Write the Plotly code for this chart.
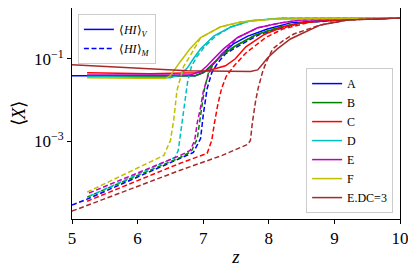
import plotly.graph_objects as go

# ---------------- data ----------------
names = ["A", "B", "C", "D", "E", "F", "E.DC=3"]
colors = ["#0000ff", "#008000", "#ff0000", "#00bfbf", "#bf00bf", "#bfbf00", "#a52a2a"]

# volume-weighted <HI>_V (solid)
zA_v = [5.0, 6.0, 6.88, 7.03, 7.16, 7.29, 7.46, 7.68, 7.98, 8.33, 8.94, 10.0]
xA_v = [0.0389, 0.0385, 0.0389, 0.0490, 0.0759, 0.132, 0.229, 0.355, 0.525, 0.741, 0.871, 0.977]
zB_v = [5.23, 6.88, 7.0, 7.11, 7.26, 7.49, 7.80, 8.18, 8.49, 8.94, 10.0]
xB_v = [0.0372, 0.0389, 0.0457, 0.0676, 0.112, 0.204, 0.380, 0.589, 0.741, 0.871, 0.977]
zC_v = [5.23, 6.19, 6.88, 7.11, 7.34, 7.49, 7.65, 7.92, 8.18, 8.49, 8.94, 10.0]
xC_v = [0.0457, 0.0437, 0.0457, 0.0537, 0.0676, 0.100, 0.195, 0.380, 0.562, 0.741, 0.871, 0.977]
zD_v = [5.23, 6.50, 6.65, 6.76, 6.85, 6.96, 7.16, 7.42, 7.72, 8.18, 10.0]
xD_v = [0.0372, 0.0347, 0.0407, 0.0603, 0.100, 0.174, 0.355, 0.589, 0.832, 0.955, 0.977]
zE_v = [5.23, 6.80, 6.96, 7.06, 7.16, 7.31, 7.52, 7.83, 8.18, 8.49, 10.0]
xE_v = [0.0407, 0.0407, 0.0490, 0.0676, 0.100, 0.174, 0.324, 0.562, 0.741, 0.871, 0.977]
zF_v = [5.23, 6.42, 6.50, 6.57, 6.65, 6.80, 6.96, 7.26, 7.57, 8.03, 10.0]
xF_v = [0.0347, 0.0331, 0.0389, 0.0575, 0.0851, 0.174, 0.324, 0.589, 0.776, 0.912, 0.980]
zG_v = [5.0, 6.76, 7.72, 7.83, 7.91, 7.98, 8.13, 8.33, 8.49, 8.79, 9.20, 10.0]
xG_v = [0.0716, 0.0513, 0.0490, 0.0537, 0.0759, 0.105, 0.174, 0.302, 0.398, 0.661, 0.871, 0.977]

# mass-weighted <HI>_M (dashed)
zA_m = [5.0, 5.23, 6.65, 6.85, 6.96, 7.0, 7.06, 7.13, 7.22, 7.34, 7.57, 7.87, 8.49, 9.25, 10.0]
xA_m = [2.88e-5, 3.98e-5, 3.89e-4, 5.37e-4, 1.17e-3, 4.27e-3, 0.0191, 0.0457, 0.0794, 0.132, 0.219, 0.398, 0.741, 0.891, 0.977]
zB_m = [5.23, 6.65, 6.82, 6.91, 6.96, 7.02, 7.08, 7.17, 7.29, 7.49, 7.80, 8.18, 8.49, 9.0, 10.0]
xB_m = [4.47e-5, 4.07e-4, 5.75e-4, 1.17e-3, 4.27e-3, 0.0191, 0.0457, 0.0794, 0.132, 0.204, 0.380, 0.589, 0.741, 0.871, 0.977]
zC_m = [5.23, 6.65, 7.06, 7.13, 7.17, 7.22, 7.28, 7.35, 7.46, 7.65, 7.95, 8.21, 8.64, 9.25, 10.0]
xC_m = [3.55e-5, 2.95e-4, 5.13e-4, 1.05e-3, 2.69e-3, 7.41e-3, 0.0191, 0.0372, 0.0646, 0.138, 0.324, 0.525, 0.776, 0.912, 0.977]
zD_m = [5.26, 6.57, 6.62, 6.67, 6.71, 6.76, 6.82, 6.91, 7.03, 7.19, 7.42, 7.72, 8.18, 10.0]
xD_m = [4.68e-5, 4.07e-4, 6.03e-4, 2.45e-3, 8.32e-3, 0.0263, 0.0646, 0.117, 0.204, 0.355, 0.589, 0.832, 0.955, 0.977]
zE_m = [5.26, 6.65, 6.80, 6.87, 6.91, 6.96, 7.0, 7.06, 7.14, 7.26, 7.52, 7.83, 8.18, 8.49, 10.0]
xE_m = [5.62e-5, 4.57e-4, 6.03e-4, 1.05e-3, 2.88e-3, 6.61e-3, 0.0158, 0.0331, 0.0724, 0.117, 0.324, 0.562, 0.741, 0.871, 0.977]
zF_m = [5.23, 6.0, 6.40, 6.50, 6.55, 6.60, 6.70, 6.80, 6.96, 7.26, 7.57, 8.03, 10.0]
xF_m = [5.89e-5, 2.24e-4, 4.57e-4, 1.05e-3, 3.24e-3, 0.0170, 0.0646, 0.117, 0.324, 0.589, 0.776, 0.912, 0.980]
zG_m = [5.0, 6.65, 7.29, 7.68, 7.72, 7.75, 7.80, 7.84, 7.91, 7.97, 8.06, 8.21, 8.38, 8.79, 9.20, 10.0]
xG_m = [2.04e-5, 2.00e-4, 4.57e-4, 8.51e-4, 1.05e-3, 2.88e-3, 9.77e-3, 0.0200, 0.0513, 0.0891, 0.174, 0.269, 0.398, 0.661, 0.871, 0.977]

solid = [(zA_v, xA_v), (zB_v, xB_v), (zC_v, xC_v), (zD_v, xD_v), (zE_v, xE_v), (zF_v, xF_v), (zG_v, xG_v)]
dashed = [(zA_m, xA_m), (zB_m, xB_m), (zC_m, xC_m), (zD_m, xD_m), (zE_m, xE_m), (zF_m, xF_m), (zG_m, xG_m)]

x_ticks = [5, 6, 7, 8, 9, 10]
y_ticks = [1e-1, 1e-3]
y_ticktext = ["10<sup>−1</sup>", "10<sup>−3</sup>"]

FONT = "Liberation Serif"
LW = 1.5
DASH = "5px,2.6px"

fig = go.Figure()
for name, col, (zs, xs), (zd, xd) in zip(names, colors, solid, dashed):
    fig.add_trace(go.Scatter(x=zs, y=xs, mode="lines", name=name,
                             line=dict(color=col, width=LW), legend="legend2"))
    fig.add_trace(go.Scatter(x=zd, y=xd, mode="lines", name=name + " M", showlegend=False,
                             line=dict(color=col, width=LW, dash=DASH)))

# style legend (top-left)
fig.add_trace(go.Scatter(x=[None], y=[None], mode="lines",
                         name="⟨<i>HI</i>⟩<sub><i>V</i></sub>",
                         line=dict(color="#0000ff", width=LW), legend="legend"))
fig.add_trace(go.Scatter(x=[None], y=[None], mode="lines",
                         name="⟨<i>HI</i>⟩<sub><i>M</i></sub>",
                         line=dict(color="#0000ff", width=LW, dash=DASH), legend="legend"))

axis_common = dict(showline=True, linecolor="black", linewidth=1, mirror=True,
                   ticks="outside", ticklen=4, tickwidth=1, tickcolor="black",
                   showgrid=False, zeroline=False,
                   tickfont=dict(family=FONT, size=17, color="black"))

fig.update_layout(
    width=408, height=264,
    margin=dict(l=64, r=16, t=0, b=53),
    paper_bgcolor="white", plot_bgcolor="white",
    font=dict(family=FONT, color="black"),
    xaxis=dict(range=[5, 10], tickvals=x_ticks,
               title=dict(text="<i>z</i>", font=dict(family=FONT, size=19), standoff=2),
               **axis_common),
    yaxis=dict(type="log", range=[-4.88, 0.23], tickvals=y_ticks, ticktext=y_ticktext,
               title=dict(text="⟨<i>X</i>⟩", font=dict(family=FONT, size=19), standoff=6),
               **axis_common),
    legend=dict(x=0.018, y=0.972, xanchor="left", yanchor="top",
                bgcolor="rgba(255,255,255,0.8)", bordercolor="#cccccc", borderwidth=1,
                font=dict(family=FONT, size=12), itemwidth=30, tracegroupgap=0),
    legend2=dict(x=0.979, y=0.028, xanchor="right", yanchor="bottom",
                 bgcolor="rgba(255,255,255,0.8)", bordercolor="#cccccc", borderwidth=1,
                 font=dict(family=FONT, size=12), itemwidth=30, tracegroupgap=0),
    showlegend=True,
)

fig.write_html("out.html")
